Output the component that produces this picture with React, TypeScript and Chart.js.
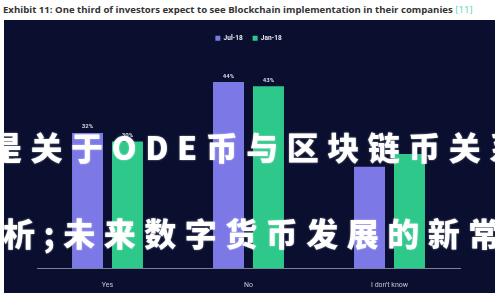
import { useEffect, useRef } from "react";
import { Chart, registerables } from "chart.js";

Chart.register(...registerables);

const titleText = "Exhibit 11: One third of investors expect to see Blockchain implementation in their companies";
const titleRef = "[11]";
const categories = ["Yes", "No", "I don't know"];
const seriesNames = ["Jul-18", "Jan-18"];
const jul18 = [32, 44, 24];
const jan18 = [30, 43, 27];
const labelledCategories = ["Yes", "No"];
const watermarkLine1 = "是关于ODE币与区块链币关系";
const watermarkLine2 = "析;未来数字货币发展的新常";

const valueLabels = {
  id: "valueLabels",
  afterDatasetsDraw(chart: any) {
    const ctx = chart.ctx;
    ctx.save();
    ctx.font = "bold 6px Roboto";
    ctx.fillStyle = "#d6d9e6";
    ctx.textAlign = "center";
    ctx.textBaseline = "bottom";
    chart.data.datasets.forEach((ds: any, i: number) => {
      const meta = chart.getDatasetMeta(i);
      meta.data.forEach((bar: any, j: number) => {
        if (!labelledCategories.includes(chart.data.labels[j])) return;
        ctx.fillText(ds.data[j] + "%", bar.x, bar.y - 3);
      });
    });
    ctx.restore();
  },
};

function BarChart() {
  const ref = useRef<HTMLCanvasElement | null>(null);
  useEffect(() => {
    if (!ref.current) return;
    const chart = new Chart(ref.current, {
      type: "bar",
      data: {
        labels: categories,
        datasets: [
          {
            label: seriesNames[0],
            data: jul18,
            backgroundColor: "#7c79e6",
            barPercentage: 0.775,
            categoryPercentage: 0.567,
          },
          {
            label: seriesNames[1],
            data: jan18,
            backgroundColor: "#2fc88b",
            barPercentage: 0.775,
            categoryPercentage: 0.567,
          },
        ],
      },
      options: {
        responsive: false,
        animation: false,
        layout: { padding: { left: 33, right: 35, top: 5, bottom: 0 } },
        plugins: {
          legend: {
            display: true,
            position: "top",
            labels: {
              boxWidth: 5,
              boxHeight: 5,
              padding: 10,
              color: "#e8eaf4",
              font: { family: "Roboto", size: 6.5, weight: "bold" },
            },
          },
          tooltip: { enabled: false },
        },
        scales: {
          x: {
            grid: { display: false },
            border: { display: true, color: "#7c8296", width: 1 },
            ticks: {
              color: "#c4c8d6",
              font: { family: "Roboto", size: 7 },
              padding: 4,
            },
          },
          y: {
            display: false,
            min: 0,
            max: 51.2,
          },
        },
      },
      plugins: [valueLabels],
    });
    return () => chart.destroy();
  }, []);
  return <canvas ref={ref} width={491} height={273} style={{ display: "block" }} />;
}

export default function App() {
  const wmStyle: any = {
    position: "absolute",
    left: 0,
    whiteSpace: "nowrap",
    color: "#ffffff",
    fontFamily: "'Noto Sans CJK SC', sans-serif",
    fontWeight: 900,
    fontSize: 32,
    lineHeight: "32px",
    letterSpacing: "8.5px",
    pointerEvents: "none",
    textShadow: "0 0 2px rgba(255,255,255,0.6)",
  };
  return (
    <div
      style={{
        position: "fixed",
        left: 0,
        top: 0,
        width: 500,
        height: 300,
        background: "#ffffff",
        overflow: "hidden",
      }}
    >
      <div
        style={{
          position: "absolute",
          left: 3,
          top: 4,
          whiteSpace: "nowrap",
          fontFamily: "'Open Sans', sans-serif",
          fontWeight: 700,
          fontSize: 9.6,
          lineHeight: "12px",
          color: "#333333",
        }}
      >
        {titleText} <span style={{ color: "#5fcfb6", fontWeight: 400 }}>{titleRef}</span>
      </div>
      <div
        style={{
          position: "absolute",
          left: 4,
          top: 20,
          width: 491,
          height: 273,
          background: "#0a0f2f",
        }}
      >
        <BarChart />
      </div>
      <div style={{ ...wmStyle, top: 130, left: -10 }}>{watermarkLine1}</div>
      <div style={{ ...wmStyle, top: 216, left: 3 }}>{watermarkLine2}</div>
    </div>
  );
}
